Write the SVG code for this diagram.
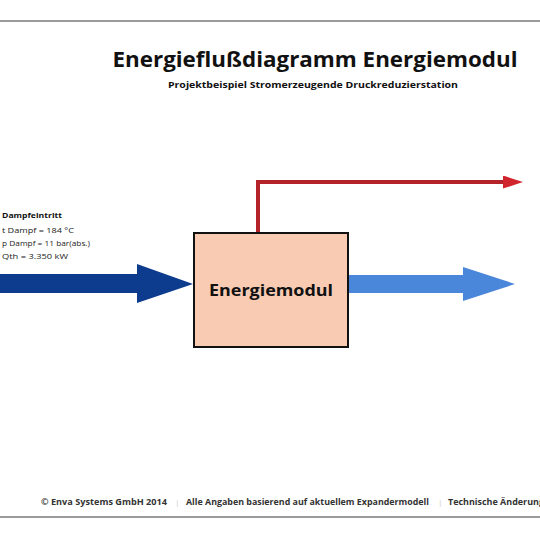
<svg xmlns="http://www.w3.org/2000/svg" width="540" height="540" viewBox="0 0 540 540">
<style>
.t{font-family:"Open Sans","Liberation Sans",sans-serif;font-weight:bold;fill:#111}
.s{font-family:"Open Sans","Liberation Sans",sans-serif;fill:#222}
.f{font-family:"Open Sans","Liberation Sans",sans-serif;font-weight:bold;fill:#333;font-size:8px}
.sep{font-family:"Open Sans","Liberation Sans",sans-serif;fill:#ccc;font-size:8px}
</style>
<defs>
<marker id="redHead" markerWidth="20" markerHeight="13" refX="0" refY="6.5" orient="auto" markerUnits="userSpaceOnUse">
<path d="M0,0 L20,6.5 L0,13 Z" fill="#d0252d"/>
</marker>
</defs>
<rect width="540" height="540" fill="#fff"/>
<line x1="0" y1="21" x2="540" y2="21" stroke="#9a9a9a" stroke-width="2"/>
<line x1="0" y1="517" x2="540" y2="517" stroke="#9a9a9a" stroke-width="2"/>
<text class="t" x="315" y="67" font-size="21" text-anchor="middle" textLength="405" lengthAdjust="spacingAndGlyphs">Energieflußdiagramm Energiemodul</text>
<text class="t" x="313" y="88" font-size="8" text-anchor="middle" textLength="290" lengthAdjust="spacingAndGlyphs">Projektbeispiel Stromerzeugende  Druckreduzierstation</text>
<g id="inlet-label">
<text class="t" x="2" y="218" font-size="7" textLength="60" lengthAdjust="spacingAndGlyphs">Dampfeintritt</text>
<text class="s" x="2" y="233" font-size="6.5" textLength="72" lengthAdjust="spacingAndGlyphs">t Dampf = 184 °C</text>
<text class="s" x="2" y="246" font-size="6.5" textLength="88" lengthAdjust="spacingAndGlyphs">p Dampf = 11 bar(abs.)</text>
<text class="s" x="2" y="259" font-size="6.5" textLength="66" lengthAdjust="spacingAndGlyphs">Qth = 3.350 kW</text>
</g>
<g id="connectors">
<polygon points="0,274 137,274 137,264 193,284 137,303 137,293 0,293" fill="#0d3b8e"/>
<polygon points="348,275 463,275 463,267 515,284 463,301 463,293 348,293" fill="#4a86d9"/>
<polyline points="258,232 258,182 503,182" fill="none" stroke="#b5232a" stroke-width="4" marker-end="url(#redHead)"/>
</g>
<g id="energiemodul">
<rect x="194" y="233" width="154" height="114" fill="#f9cbb3" stroke="#111" stroke-width="2"/>
<text class="t" x="271" y="296" font-size="16" text-anchor="middle" textLength="124" lengthAdjust="spacingAndGlyphs">Energiemodul</text>
</g>
<g id="footer">
<text class="f" x="41" y="505" textLength="126" lengthAdjust="spacingAndGlyphs">© Enva Systems GmbH 2014</text>
<text class="sep" x="175" y="505">|</text>
<text class="f" x="186" y="505" textLength="243" lengthAdjust="spacingAndGlyphs">Alle Angaben basierend auf aktuellem Expandermodell</text>
<text class="sep" x="438" y="505">|</text>
<text class="f" x="448" y="505" textLength="96" lengthAdjust="spacingAndGlyphs">Technische Änderung</text>
</g>
</svg>
